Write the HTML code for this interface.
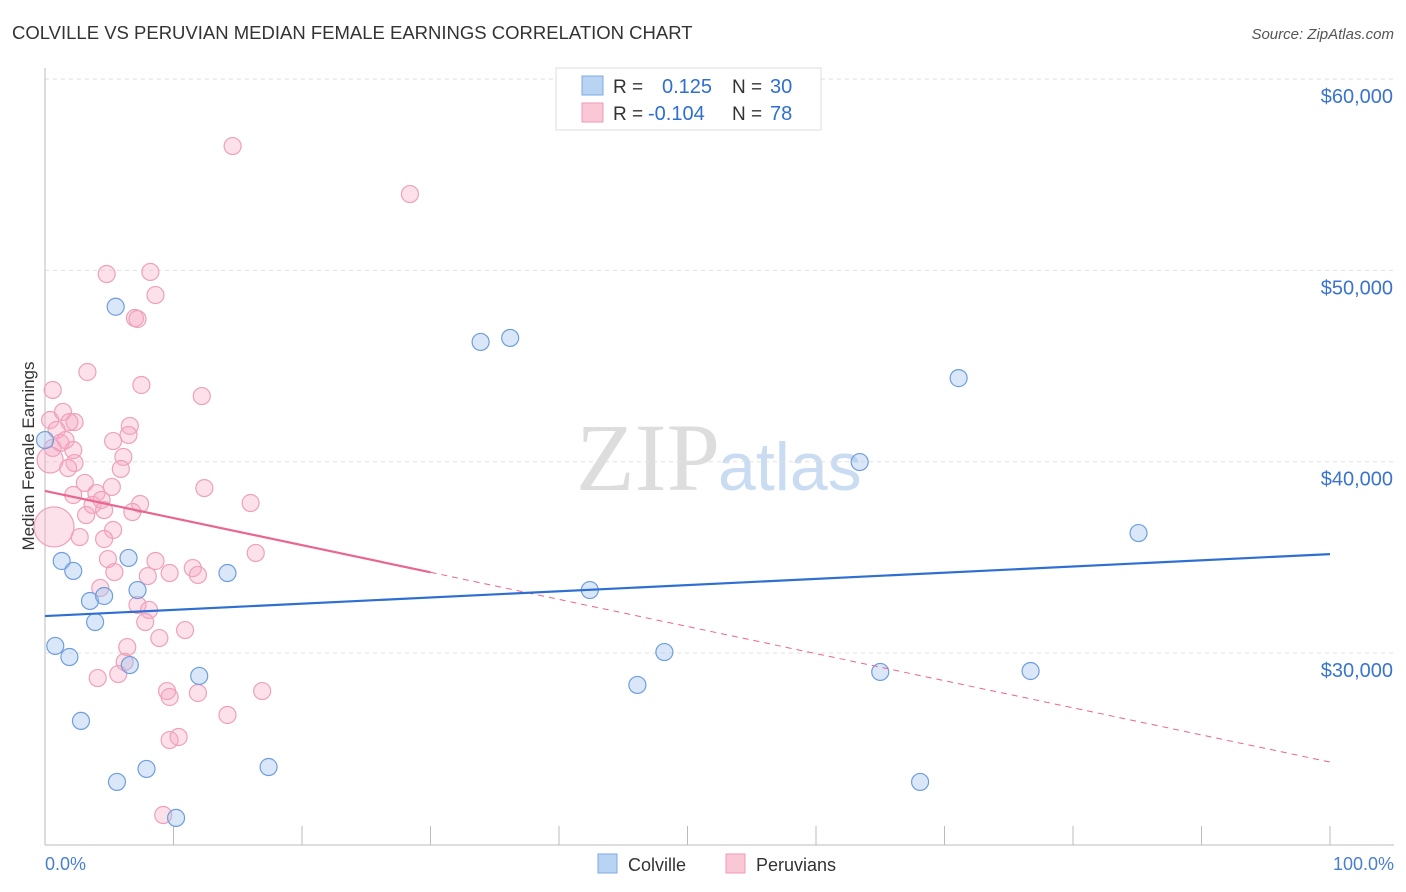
<!DOCTYPE html>
<html><head><meta charset="utf-8">
<style>
body{margin:0;background:#fff;font-family:"Liberation Sans",sans-serif;}
svg{display:block}
</style></head>
<body>
<svg id="chart" width="1406" height="892">
<text x="12" y="39" font-size="18.5" fill="#333">COLVILLE VS PERUVIAN MEDIAN FEMALE EARNINGS CORRELATION CHART</text>
<text x="1394" y="39" font-size="15" fill="#555" font-style="italic" text-anchor="end">Source: ZipAtlas.com</text>
<text x="720" y="490" font-size="96" fill="#ddd" font-family="Liberation Serif,serif" text-anchor="end">ZIP</text>
<text x="718" y="490" font-size="68" fill="#c9dcf2">atlas</text>
<g id="grid"></g>
<g id="axes"></g>
<g id="marks"></g>
<text transform="translate(34,456) rotate(-90)" font-size="17" fill="#333" text-anchor="middle">Median Female Earnings</text>
<text x="45" y="870" font-size="18" fill="#4a7fd0">0.0%</text>
<text x="1394" y="870" font-size="18" fill="#4a7fd0" text-anchor="end">100.0%</text>
<g>
<rect x="556" y="68" width="265" height="62" fill="#fff" stroke="#ddd"/>
<rect x="582" y="76" width="21" height="19" fill="#b9d3f3" stroke="#7ea9e0"/>
<rect x="582" y="103" width="21" height="19" fill="#f9c7d6" stroke="#ee9bb6"/>
<text x="613" y="93" font-size="19" fill="#333">R =</text>
<text x="662" y="93" font-size="20" fill="#2e6fd1">0.125</text>
<text x="732" y="93" font-size="19" fill="#333">N =</text>
<text x="770" y="93" font-size="20" fill="#2e6fd1">30</text>
<text x="613" y="120" font-size="19" fill="#333">R =</text>
<text x="648" y="120" font-size="20" fill="#2e6fd1">-0.104</text>
<text x="732" y="120" font-size="19" fill="#333">N =</text>
<text x="770" y="120" font-size="20" fill="#2e6fd1">78</text>
</g>
<g>
<rect x="598" y="854" width="19" height="19" fill="#b9d3f3" stroke="#7ea9e0"/>
<text x="628" y="871" font-size="18" fill="#333">Colville</text>
<rect x="726" y="854" width="19" height="19" fill="#f9c7d6" stroke="#ee9bb6"/>
<text x="756" y="871" font-size="18" fill="#333">Peruvians</text>
</g>
</svg>
<script>
const yTicks=[30000,40000,50000,60000];
const yTickLabels=["$30,000","$40,000","$50,000","$60,000"];
const xTicks=[0,10,20,30,40,50,60,70,80,90,100];
const colvilleX=[5.5,33.9,36.2,71.1,63.4,85.1,1.3,2.2,6.5,14.2,7.2,3.5,4.6,3.9,42.4,0.8,1.9,6.6,12.0,48.2,65.0,76.7,46.1,2.8,5.6,7.9,17.4,68.1,10.2,0];
const colvilleY=[48100,46260,46470,44370,39980,36270,34810,34290,34970,34180,33290,32720,32980,31620,33290,30370,29790,29370,28800,30050,29010,29060,28330,26450,23260,23940,24040,23260,21380,41130];
const peruX=[14.6,28.4,4.8,8.2,8.6,7.0,7.2,3.3,7.5,12.2,0.6,0.4,1.4,2.3,1.9,0.9,1.2,1.6,6.6,6.5,5.3,0.6,2.2,6.1,2.3,1.8,5.9,3.1,5.2,12.4,2.2,4.0,3.7,7.4,16.0,4.4,3.2,6.8,4.6,5.3,2.7,4.6,0.7,16.4,4.9,8.6,11.5,5.4,8.0,9.7,11.9,4.3,7.2,8.1,7.8,10.9,8.9,6.4,6.2,4.1,5.7,9.5,9.7,11.9,16.9,14.2,9.7,10.4,9.2,0.4];
const peruY=[56500,53990,49810,49920,48710,47510,47460,44690,44010,43430,43750,42180,42600,42070,42070,41660,40980,41130,41870,41400,41080,40720,40610,40250,39930,39670,39620,38890,38680,38620,38260,38360,37740,37790,37840,38000,37210,37370,37470,36430,36060,35960,36590,35230,34910,34810,34440,34230,34020,34180,34080,33400,32510,32250,31620,31200,30780,30310,29530,28690,28900,28010,27700,27910,28010,26760,25450,25610,21530,40090];
const peruBig=[42,69];
const colvilleTrend=[31930,35170];
const peruTrend=[38470,24300];
const peruSolidEnd=30;

const xs=v=>45+v*12.85;
const ys=v=>653-(v-30000)*0.01913;
const NS="http://www.w3.org/2000/svg";
function mk(tag,parent,attrs){const e=document.createElementNS(NS,tag);for(const k in attrs)e.setAttribute(k,attrs[k]);parent.appendChild(e);return e;}
const grid=document.getElementById('grid'),axes=document.getElementById('axes'),marks=document.getElementById('marks');
yTicks.forEach((t,i)=>{
  const l=mk('line',grid,{x1:45,x2:1394,y1:ys(t),y2:ys(t),stroke:'#e2e2e2','stroke-dasharray':'4,4'});
  
  
  const tx=mk('text',grid,{x:1393,y:ys(t)+24,'font-size':20,fill:'#3a74cf','text-anchor':'end'});
  tx.textContent=yTickLabels[i];
  
  
});
const tg=mk('line',grid,{x1:45,x2:1394,y1:79,y2:79,stroke:'#e2e2e2','stroke-dasharray':'4,4'});
const ax=mk('line',axes,{x1:45,x2:45,y1:68,y2:845,stroke:'#bbb'});


const bx=mk('line',axes,{x1:45,x2:1394,y1:845,y2:845,stroke:'#bbb'});


xTicks.forEach(t=>{
  const l=mk('line',axes,{x1:xs(t),x2:xs(t),y1:826,y2:845,stroke:'#bbb'});
  
  
});
peruX.forEach((x,i)=>{
  const r=peruBig.indexOf(i)===0?20:(peruBig.indexOf(i)===1?13:8.5);
  const c=mk('circle',marks,{cx:xs(x),cy:ys(peruY[i]),r:r,fill:'rgba(246,170,195,0.35)',stroke:'#efa0ba','stroke-width':1.2});
  
  
});
colvilleX.forEach((x,i)=>{
  const c=mk('circle',marks,{cx:xs(x),cy:ys(colvilleY[i]),r:8.5,fill:'rgba(160,195,240,0.4)',stroke:'#6f9edc','stroke-width':1.2});
  
  
});
const pAt=x=>peruTrend[0]+(peruTrend[1]-peruTrend[0])*x/100;
const ps=mk('line',marks,{x1:xs(0),y1:ys(pAt(0)),x2:xs(peruSolidEnd),y2:ys(pAt(peruSolidEnd)),stroke:'#e8668f','stroke-width':2.2});


const pd=mk('line',marks,{x1:xs(peruSolidEnd),y1:ys(pAt(peruSolidEnd)),x2:xs(100),y2:ys(pAt(100)),stroke:'#e8668f','stroke-width':1,'stroke-dasharray':'6,5'});


const cl=mk('line',marks,{x1:xs(0),y1:ys(colvilleTrend[0]),x2:xs(100),y2:ys(colvilleTrend[1]),stroke:'#2e6fd1','stroke-width':2.2});


</script>
</body></html>
